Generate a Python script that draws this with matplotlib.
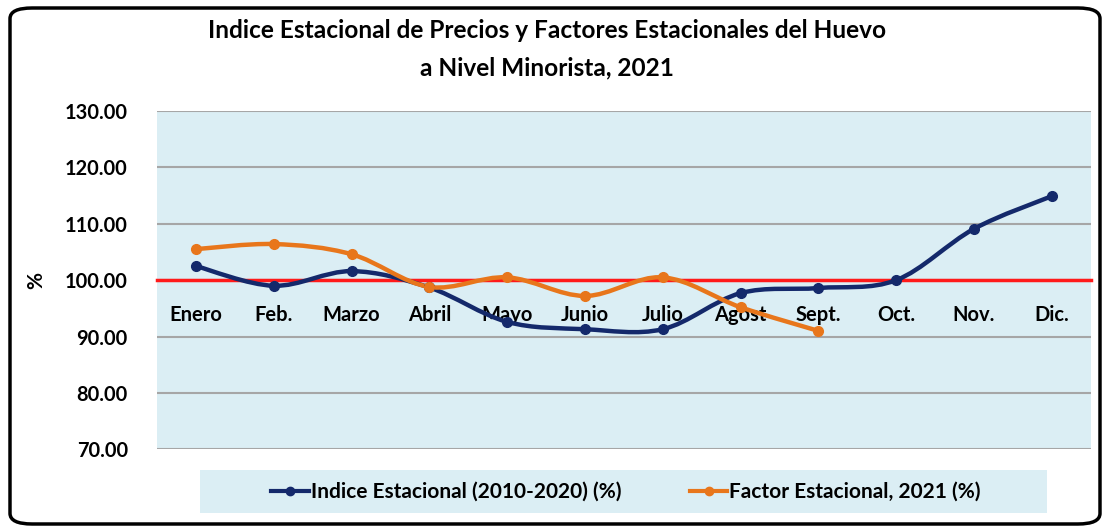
import matplotlib
matplotlib.use('Agg')
import matplotlib.pyplot as plt
from matplotlib.path import Path
from matplotlib.patches import PathPatch, FancyBboxPatch, Rectangle
from matplotlib.lines import Line2D
import numpy as np

meses = ['Enero', 'Feb.', 'Marzo', 'Abril', 'Mayo', 'Junio', 'Julio',
         'Agost', 'Sept.', 'Oct.', 'Nov.', 'Dic.']
indice = [102.5, 99.0, 101.6, 98.7, 92.6, 91.3, 91.3, 97.7, 98.6, 100.0, 109.1, 114.9]
factor = [105.5, 106.4, 104.6, 98.8, 100.5, 97.2, 100.5, 95.2, 91.0]

azul = '#14296b'
naranja = '#e8761b'
fondo = '#dbeef4'

plt.rcParams['font.family'] = ['Lato', 'DejaVu Sans']


def curva_suave(ax, x, y, color):
    # curva tipo Excel (Bezier con puntos de control de Catmull-Rom)
    x = np.asarray(x, float)
    y = np.asarray(y, float)
    n = len(x)
    verts = [(x[0], y[0])]
    codes = [Path.MOVETO]
    for i in range(n - 1):
        x0, y0 = (x[i - 1], y[i - 1]) if i > 0 else (x[i], y[i])
        x3, y3 = (x[i + 2], y[i + 2]) if i + 2 < n else (x[i + 1], y[i + 1])
        c1 = (x[i] + (x[i + 1] - x0) / 6, y[i] + (y[i + 1] - y0) / 6)
        c2 = (x[i + 1] - (x3 - x[i]) / 6, y[i + 1] - (y3 - y[i]) / 6)
        verts += [c1, c2, (x[i + 1], y[i + 1])]
        codes += [Path.CURVE4] * 3
    ax.add_patch(PathPatch(Path(verts, codes), fill=False, edgecolor=color,
                           lw=3.2, capstyle='round', zorder=4))
    ax.plot(x, y, 'o', color=color, ms=7, zorder=5)


fig = plt.figure(figsize=(11.07, 5.30), dpi=100)

# marco redondeado
fig.patches.append(FancyBboxPatch((10 / 1107, 6 / 530), 1090 / 1107, 516 / 530,
                                  boxstyle='round,pad=0,rounding_size=0.02',
                                  transform=fig.transFigure, fill=False,
                                  edgecolor='black', lw=2.5))

ax = fig.add_axes([157 / 1107, 1 - 449.3 / 530, (1090.7 - 157) / 1107, (449.3 - 111) / 530])
ax.set_facecolor(fondo)

xs = np.arange(len(meses))
curva_suave(ax, xs, indice, azul)
curva_suave(ax, xs[:len(factor)], factor, naranja)

ax.set_xlim(-0.5, len(meses) - 0.5)
ax.set_ylim(70, 130)
ax.set_yticks(np.arange(70, 131, 10))
ax.set_yticklabels(['%.2f' % v for v in np.arange(70, 131, 10)],
                   fontsize=14.4, fontweight='bold')
ax.tick_params(axis='y', length=0, pad=21)
ax.grid(axis='y', color='#a6a6a6', lw=1.5)
ax.set_axisbelow(True)

for s in ['top', 'right', 'left']:
    ax.spines[s].set_visible(False)
ax.spines['bottom'].set_position(('data', 100))
ax.spines['bottom'].set_color('#ff1a1a')
ax.spines['bottom'].set_linewidth(2.5)
ax.spines['bottom'].set_zorder(3)
ax.set_xticks(xs)
ax.set_xticklabels(meses, fontsize=14.5, fontweight='bold')
ax.tick_params(axis='x', length=0, pad=18)
for t in ax.get_xticklabels():
    t.set_zorder(6)

ax.set_ylabel('%', fontsize=15, fontweight='bold')
ax.yaxis.set_label_coords(-0.119, 0.5)

fig.text(547 / 1107, 1 - 30 / 530,
         'Indice Estacional de Precios y Factores Estacionales del Huevo',
         ha='center', va='center', fontsize=17.6, fontweight='bold')
fig.text(547 / 1107, 1 - 68 / 530, 'a Nivel Minorista, 2021',
         ha='center', va='center', fontsize=17.6, fontweight='bold')

# caja de la leyenda
fig.patches.append(Rectangle((200 / 1107, 1 - 513 / 530), 847 / 1107, 43 / 530,
                             transform=fig.transFigure, facecolor=fondo,
                             edgecolor='none'))
handles = [Line2D([], [], color=azul, lw=3, marker='o', ms=6),
           Line2D([], [], color=naranja, lw=3, marker='o', ms=6)]
fig.legend(handles, ['Indice Estacional (2010-2020) (%)', 'Factor Estacional, 2021 (%)'],
           loc='center', bbox_to_anchor=(626 / 1107, 1 - 492 / 530), ncol=2,
           frameon=False, handlelength=1.8, handletextpad=0.1, columnspacing=3.3,
           prop={'weight': 'bold', 'size': 15})

fig.savefig('out.png', dpi=100)
